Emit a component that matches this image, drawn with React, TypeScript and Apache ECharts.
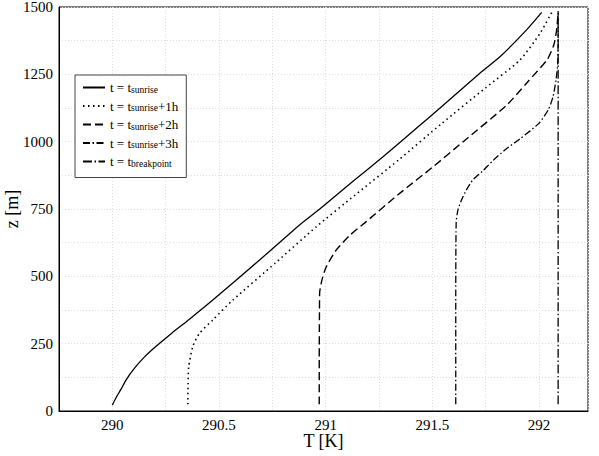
import React, { useEffect, useRef } from "react";
import * as echarts from "echarts";

// Temperature profiles T [K] vs height z [m]
const zSunrise = [22, 50, 81, 115, 160, 200, 240, 290, 340, 412, 550, 691, 759, 850, 944, 1056, 1124, 1254, 1315, 1415, 1480];
const tSunrise = [290.0, 290.018, 290.041, 290.064, 290.105, 290.15, 290.205, 290.28, 290.36, 290.471, 290.675, 290.878, 290.987, 291.124, 291.269, 291.435, 291.535, 291.723, 291.817, 291.942, 292.013];

const zPlus1h = [25, 100, 164, 239, 288, 338, 412, 550, 684, 800, 932, 1068, 1200, 1303, 1402, 1480];
const tPlus1h = [290.354, 290.355, 290.358, 290.377, 290.408, 290.471, 290.565, 290.765, 290.956, 291.135, 291.342, 291.545, 291.75, 291.911, 292.005, 292.06];

const zPlus2h = [25, 200, 350, 440, 470, 499, 530, 560, 598, 650, 703, 808, 907, 1000, 1135, 1220, 1306, 1360, 1415, 1480];
const tPlus2h = [290.97, 290.97, 290.971, 290.972, 290.978, 290.987, 291.0, 291.02, 291.05, 291.11, 291.19, 291.347, 291.504, 291.645, 291.848, 291.945, 292.04, 292.07, 292.083, 292.09];

const zPlus3h = [25, 400, 700, 746, 780, 821, 858, 890, 930, 969, 1010, 1068, 1120, 1167, 1229, 1290, 1380, 1480];
const tPlus3h = [291.61, 291.61, 291.612, 291.62, 291.635, 291.66, 291.69, 291.735, 291.785, 291.84, 291.91, 292.0, 292.045, 292.066, 292.08, 292.088, 292.09, 292.09];

const zBreak = [25, 1485];
const tBreak = [292.09, 292.09];

const seriesNames = ["sunrise", "sunrise+1h", "sunrise+2h", "sunrise+3h", "breakpoint"];
const legendTexts = [
  "{a|t = t}{s|sunrise}",
  "{a|t = t}{s|sunrise}{a|+1h}",
  "{a|t = t}{s|sunrise}{a|+2h}",
  "{a|t = t}{s|sunrise}{a|+3h}",
  "{a|t = t}{s|breakpoint}",
];

const xTicksMin = 289.75;
const xTicksMax = 292.23;
const yTicksMin = 0;
const yTicksMax = 1500;

const FONT = "Liberation Serif, Times New Roman, DejaVu Serif, serif";

function pairs(t: number[], z: number[]) {
  return t.map((v, i) => [v, z[i]]);
}

export default function App() {
  const ref = useRef<HTMLDivElement>(null);
  useEffect(() => {
    if (!ref.current) return;
    const chart = echarts.init(ref.current, undefined, { renderer: "svg" });
    const dashes: any[] = ["solid", [1.5, 3.5], [8, 4], [7, 2.5, 1.5, 2.5], [9, 2.5, 1.5, 2.5]];
    const widths = [1.3, 1.6, 1.4, 1.3, 1.3];
    const data = [
      pairs(tSunrise, zSunrise),
      pairs(tPlus1h, zPlus1h),
      pairs(tPlus2h, zPlus2h),
      pairs(tPlus3h, zPlus3h),
      pairs(tBreak, zBreak),
    ];
    chart.setOption({
      animation: false,
      backgroundColor: "#fff",
      textStyle: { fontFamily: FONT },
      grid: {
        left: 59,
        right: 11,
        top: 7,
        bottom: 45,
        show: true,
        borderColor: "#000",
        borderWidth: 1,
        containLabel: false,
        outerBoundsMode: "none",
      },
      xAxis: {
        type: "value",
        min: xTicksMin,
        max: xTicksMax,
        interval: 0.25,
        name: "T [K]",
        nameLocation: "middle",
        nameGap: 21,
        nameMoveOverlap: false,
        nameTextStyle: { fontFamily: FONT, fontSize: 18, color: "#000" },
        axisLine: { show: true, lineStyle: { color: "#000", width: 1 } },
        axisTick: { show: false },
        axisLabel: {
          fontFamily: FONT,
          fontSize: 15,
          color: "#000",
          margin: 6,
          showMaxLabel: false,
          formatter: (v: number) => {
            const d = v * 2;
            if (Math.abs(d - Math.round(d)) < 1e-6 && v <= 292.0001) return String(Number(v.toFixed(2)));
            return "";
          },
        },
        splitLine: { show: true, lineStyle: { color: "#dcdcdc", type: [1, 2], width: 1 } },
      },
      yAxis: {
        type: "value",
        min: yTicksMin,
        max: yTicksMax,
        interval: 125,
        name: "z [m]",
        nameLocation: "middle",
        nameGap: 38,
        nameMoveOverlap: false,
        nameTextStyle: { fontFamily: FONT, fontSize: 18, color: "#000" },
        axisLine: { show: true, lineStyle: { color: "#000", width: 1 } },
        axisTick: { show: false },
        axisLabel: {
          fontFamily: FONT,
          fontSize: 15,
          color: "#000",
          margin: 6,
          formatter: (v: number) => (Math.round(v) % 250 === 0 ? String(Math.round(v)) : ""),
        },
        splitLine: { show: true, lineStyle: { color: "#dcdcdc", type: [1, 2], width: 1 } },
      },
      legend: {
        orient: "vertical",
        left: 75,
        top: 75,
        padding: [6, 8, 9, 7],
        itemWidth: 22,
        itemHeight: 14,
        itemGap: 5,
        borderColor: "#444",
        borderWidth: 1,
        backgroundColor: "#fff",
        itemStyle: { opacity: 0 },
        data: seriesNames,
        formatter: (name: string) => legendTexts[seriesNames.indexOf(name)],
        textStyle: {
          fontFamily: FONT,
          color: "#000",
          rich: {
            a: { fontFamily: FONT, fontSize: 13, lineHeight: 14, color: "#000" },
            s: { fontFamily: FONT, fontSize: 9.5, lineHeight: 4, verticalAlign: "bottom", color: "#000" },
          },
        },
      },
      series: seriesNames.map((n, i) => ({
        name: n,
        type: "line",
        data: data[i],
        symbol: "none",
        smooth: 0.2,
        color: "#000",
        lineStyle: { color: "#000", width: widths[i], type: dashes[i] },
      })),
    });
    return () => chart.dispose();
  }, []);
  return <div ref={ref} style={{ width: 599, height: 456, position: "absolute", left: 0, top: 0 }} />;
}
